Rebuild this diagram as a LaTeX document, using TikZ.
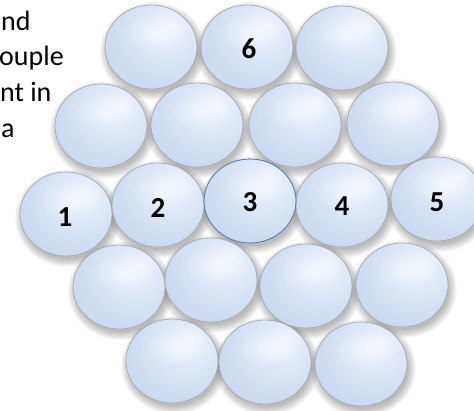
\documentclass[tikz,border=0pt]{standalone}
\usepackage{fontspec}
\setmainfont{Carlito}
\usetikzlibrary{fadings,shapes.geometric}
\definecolor{gl1}{HTML}{F0F5FC}
\definecolor{gl2}{HTML}{DCE6F6}
\definecolor{gl3}{HTML}{C8D8F0}
\definecolor{gl4}{HTML}{AEC5E8}
\definecolor{rimgray}{HTML}{A8AAAE}
\definecolor{rimblue}{HTML}{5279AF}
\pgfdeclareradialshading{glass}{\pgfpoint{12bp}{14bp}}{color(0bp)=(gl1); color(16bp)=(gl2); color(34bp)=(gl3); color(50bp)=(gl4); color(60bp)=(gl4)}
\tikzfading[name=glowfade, inner color=transparent!45, outer color=transparent!100]
\begin{document}
\begin{tikzpicture}[x=1pt,y=-1pt,
  ball/.style={ellipse, minimum width=92pt, minimum height=84pt, inner sep=0pt, shading=glass, draw=rimgray, line width=0.7pt},
  shadowlayer/.style={fill=black, opacity=0.045},
  num/.style={font=\bfseries\fontsize{29}{29}\selectfont, inner sep=0pt, text=black},
  side/.style={font=\fontsize{28}{34}\selectfont, anchor=base west, inner sep=0pt, text=black}]
\useasboundingbox (0,0) rectangle (474,410);
\def\balls{151/47/b1, 247/47/b2, 342/48/b3,
  101/126/b4, 197/125/b5, 295/125/b6, 393/124/b7,
  66/214/b8, 158/205/b9, 250/201/b10, 342/205/b11, 437/199/b12,
  119/287/b13, 211/280/b14, 306/286/b15, 402/285/b16,
  172/361/b17, 265/362/b18, 361/364/b19}
% soft shadows (layered)
\foreach \x/\y/\n in \balls {
  \foreach \k in {0,...,6} {
    \pgfmathsetmacro\rx{45+1.3*\k}
    \pgfmathsetmacro\ry{41+1.3*\k}
    \fill[shadowlayer] (\x+2,\y+4) ellipse [x radius=\rx pt, y radius=\ry pt];
  }
}
% balls
\foreach \x/\y/\n in \balls {
  \node[ball] (\n) at (\x,\y) {};
  \fill[white, path fading=glowfade] (\x+4,\y-14) ellipse [x radius=32pt, y radius=20pt];
}
\draw[rimblue, line width=0.7pt] (b10.center) ellipse [x radius=46pt, y radius=42pt];
% numbers
\node[num] (n6) at (249,49) {6};
\node[num] (n1) at (65,217) {1};
\node[num] (n2) at (158,208) {2};
\node[num] (n3) at (250,202) {3};
\node[num] (n4) at (342,206) {4};
\node[num] (n5) at (437,202) {5};
% clipped side text
\node[side] (t1) at (1,30) {nd};
\node[side] (t2) at (-1,65) {ouple};
\node[side] (t3) at (0,101) {nt in};
\node[side] (t4) at (1,137) {a};
\end{tikzpicture}
\end{document}
